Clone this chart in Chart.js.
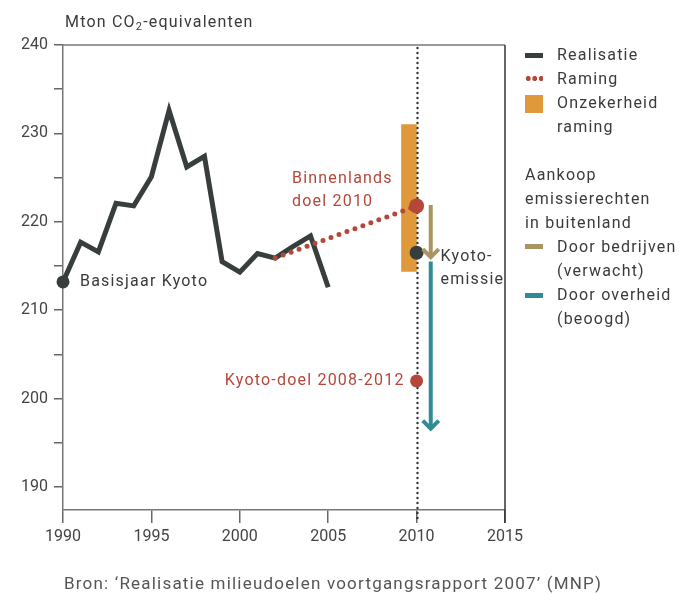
<!DOCTYPE html>
<html lang="nl">
<head>
<meta charset="UTF-8">
<title>Emissie broeikasgassen</title>
<script src="https://cdn.jsdelivr.net/npm/chart.js"></script>
<style>
  body { margin: 0; background: #fff; font-family: Roboto, sans-serif; color: #3a3a3a; }
  .wrap { position: relative; width: 680px; height: 594px; }
  canvas { position: absolute; left: 0; top: 0; }
  .txt { position: absolute; font-size: 16px; line-height: 24px; white-space: nowrap; letter-spacing: 1.2px; }
  .sw { position: absolute; left: 525px; width: 18px; }
  sub { font-size: 11px; vertical-align: -3px; line-height: 0; }
</style>
</head>
<body>
<div class="wrap">
  <canvas id="chart" width="680" height="594"></canvas>

  <div class="txt" style="left:65px; top:10px;">Mton CO<sub>2</sub>-equivalenten</div>

  <!-- legenda -->
  <div class="sw" style="top:53px; height:5px; background:#383d3d;"></div>
  <div class="txt" style="left:557px; top:43px;">Realisatie</div>
  <div class="sw" style="top:76px; height:5px; background:radial-gradient(circle, #b5473a 2.3px, transparent 2.8px) 0 0 / 6.5px 5px repeat-x;"></div>
  <div class="txt" style="left:557px; top:67px;">Raming</div>
  <div class="sw" style="top:95px; height:18px; background:#e0993a;"></div>
  <div class="txt" style="left:557px; top:91px;">Onzekerheid<br>raming</div>
  <div class="txt" style="left:525px; top:163px;">Aankoop<br>emissierechten<br>in buitenland</div>
  <div class="sw" style="top:244px; height:5px; background:#a8955f;"></div>
  <div class="txt" style="left:557px; top:235px;">Door bedrijven<br>(verwacht)</div>
  <div class="sw" style="top:293px; height:5px; background:#2f8c97;"></div>
  <div class="txt" style="left:557px; top:283px;">Door overheid<br>(beoogd)</div>

  <div class="txt" style="left:64px; top:571px; color:#555; font-size:17px;">Bron: ‘Realisatie milieudoelen voortgangsrapport 2007’ (MNP)</div>
</div>

<script>
// gegevens
const jaren = [1990, 1991, 1992, 1993, 1994, 1995, 1996, 1997, 1998, 1999, 2000, 2001, 2002, 2003, 2004, 2005];
const realisatie = [213.2, 217.7, 216.6, 222.1, 221.8, 225.1, 232.6, 226.2, 227.4, 215.5, 214.3, 216.4, 215.9, 217.2, 218.4, 212.6];
const ramingJaren = [2002, 2010];
const raming = [215.9, 221.8];
const onzekerheidJaar = 2009.57;
const onzekerheid = [214.4, 231.0];
const kyotoJaar = 2010;
const kyotoEmissie = 216.5;
const kyotoDoel = 202.0;
const aankoopJaar = 2010.8;
const doorBedrijven = [221.9, 216.0];
const doorOverheid = [215.5, 196.6];
const xTicks = [1990, 1995, 2000, 2005, 2010, 2015];
const yTicks = [190, 195, 200, 205, 210, 215, 220, 225, 230, 235, 240];
const yLabels = [190, 200, 210, 220, 230, 240];

const donker = '#383d3d';
const rood = '#b5473a';
const oranje = '#e0993a';
const kaki = '#a8955f';
const teal = '#2f8c97';

Chart.defaults.font.family = "Roboto, sans-serif";
Chart.defaults.font.size = 16;
Chart.defaults.color = '#444';

// kader, stippellijn 2010, pijlpunten en teksten
const extras = {
  id: 'extras',
  afterDatasetDraw(chart, args) {
    if (args.meta.type !== 'bar') return;
    const { ctx, chartArea: a, scales: { x } } = chart;
    const px = Math.round(x.getPixelForValue(2010)) + 0.5;
    ctx.save();
    ctx.strokeStyle = '#333';
    ctx.lineWidth = 2.4;
    ctx.lineCap = 'round';
    ctx.setLineDash([0, 5]);
    ctx.beginPath();
    ctx.moveTo(px, a.top + 3);
    ctx.lineTo(px, a.bottom + 13);
    ctx.stroke();
    ctx.restore();
  },
  afterDatasetsDraw(chart) {
    const { ctx, chartArea: a, scales: { x, y } } = chart;
    ctx.save();
    // kader boven en rechts
    ctx.lineWidth = 1.5;
    ctx.strokeStyle = '#777';
    ctx.beginPath();
    ctx.moveTo(a.left, a.top);
    ctx.lineTo(a.right, a.top);
    ctx.stroke();
    ctx.strokeStyle = '#333';
    ctx.beginPath();
    ctx.moveTo(a.right, a.top);
    ctx.lineTo(a.right, a.bottom + 13);
    ctx.stroke();

    // pijlpunten
    chart.data.datasets.forEach((ds, i) => {
      if (!ds.pijl) return;
      const pts = chart.getDatasetMeta(i).data;
      const p = pts[pts.length - 1];
      ctx.strokeStyle = ds.borderColor;
      ctx.lineWidth = 4;
      ctx.lineCap = 'butt';
      ctx.lineJoin = 'miter';
      ctx.beginPath();
      ctx.moveTo(p.x - 8, p.y - 8);
      ctx.lineTo(p.x, p.y);
      ctx.lineTo(p.x + 8, p.y - 8);
      ctx.stroke();
    });

    // teksten
    ctx.font = '16px Roboto, sans-serif';
    ctx.letterSpacing = '1.2px';
    ctx.textBaseline = 'middle';
    ctx.fillStyle = '#3a3a3a';
    ctx.textAlign = 'left';
    ctx.fillText('Basisjaar Kyoto', x.getPixelForValue(jaren[0]) + 17, y.getPixelForValue(realisatie[0]));
    const kx = x.getPixelForValue(kyotoJaar);
    const ky = y.getPixelForValue(kyotoEmissie);
    ctx.fillText('Kyoto-', kx + 24, ky + 4);
    ctx.fillText('emissie', kx + 24, ky + 27);
    ctx.fillStyle = rood;
    const by = y.getPixelForValue(raming[1]);
    ctx.fillText('Binnenlands', 292, by - 27);
    ctx.fillText('doel 2010', 292, by - 4);
    ctx.textAlign = 'right';
    ctx.fillText('Kyoto-doel 2008-2012', kx - 12, y.getPixelForValue(kyotoDoel));
    ctx.restore();
  }
};

new Chart(document.getElementById('chart'), {
  type: 'line',
  data: {
    datasets: [
      {
        label: 'Realisatie',
        data: jaren.map((j, i) => ({ x: j, y: realisatie[i] })),
        borderColor: donker,
        backgroundColor: donker,
        borderWidth: 5,
        borderJoinStyle: 'miter',
        pointRadius: jaren.map((j, i) => i === 0 ? 6.5 : 0),
        pointBorderWidth: 0,
        clip: false,
        order: 2
      },
      {
        label: 'Raming',
        data: ramingJaren.map((j, i) => ({ x: j, y: raming[i] })),
        borderColor: rood,
        backgroundColor: rood,
        borderWidth: 5,
        borderCapStyle: 'round',
        borderDash: [0, 8.5],
        pointRadius: [0, 7.5],
        pointBorderWidth: 0,
        order: 1
      },
      {
        label: 'Onzekerheid raming',
        type: 'bar',
        data: [{ x: onzekerheidJaar, y: onzekerheid }],
        backgroundColor: oranje,
        barThickness: 15,
        order: 10
      },
      {
        label: 'Door bedrijven',
        data: doorBedrijven.map(v => ({ x: aankoopJaar, y: v })),
        borderColor: kaki,
        borderWidth: 4,
        pointRadius: 0,
        pijl: true,
        order: 3
      },
      {
        label: 'Door overheid',
        data: doorOverheid.map(v => ({ x: aankoopJaar, y: v })),
        borderColor: teal,
        borderWidth: 4,
        pointRadius: 0,
        pijl: true,
        order: 3
      },
      {
        label: 'Kyoto-emissie',
        data: [{ x: kyotoJaar, y: kyotoEmissie }],
        showLine: false,
        backgroundColor: donker,
        pointRadius: 7,
        pointBorderWidth: 0,
        order: 0
      },
      {
        label: 'Kyoto-doel 2008-2012',
        data: [{ x: kyotoJaar, y: kyotoDoel }],
        showLine: false,
        backgroundColor: rood,
        pointRadius: 6.5,
        pointBorderWidth: 0,
        order: 0
      }
    ]
  },
  options: {
    responsive: false,
    animation: false,
    devicePixelRatio: 1,
    layout: { padding: { left: 0, top: 45, right: 175, bottom: 44 } },
    plugins: { legend: { display: false }, tooltip: { enabled: false } },
    scales: {
      x: {
        type: 'linear',
        min: 1990,
        max: 2015,
        offset: false,
        afterFit: s => { s.height = 40; },
        afterBuildTicks: s => { s.ticks = xTicks.map(v => ({ value: v })); },
        ticks: { padding: 4, color: '#444', callback: v => String(v) },
        grid: { drawOnChartArea: false, tickLength: 13, color: '#666', lineWidth: 1.5, offset: false },
        border: { color: '#777', width: 1.5 }
      },
      y: {
        min: 187.4,
        max: 240,
        afterFit: s => { s.width = 63; },
        afterBuildTicks: s => { s.ticks = yTicks.map(v => ({ value: v })); },
        ticks: {
          padding: 6,
          color: '#444',
          callback: v => yLabels.includes(v) ? String(v) : ''
        },
        grid: { drawOnChartArea: false, tickLength: 9, color: '#666', lineWidth: 1.5 },
        border: { color: '#777', width: 1.5 }
      }
    }
  },
  plugins: [extras]
});
</script>
</body>
</html>
